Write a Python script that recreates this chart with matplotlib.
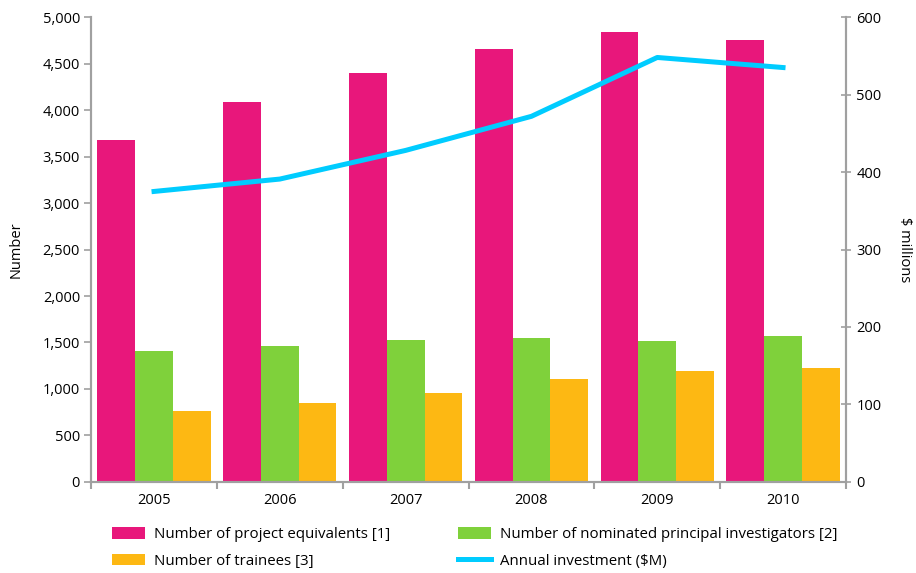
import matplotlib.pyplot as plt
import numpy as np
from matplotlib.ticker import FuncFormatter, FixedLocator

plt.rcParams['font.family'] = ['Open Sans', 'DejaVu Sans']

# Data
years = ["2005", "2006", "2007", "2008", "2009", "2010"]
project_equivalents = [3680, 4090, 4400, 4660, 4840, 4750]
principal_investigators = [1410, 1460, 1530, 1550, 1515, 1570]
trainees = [765, 850, 955, 1105, 1195, 1225]
investment = [375, 391, 428, 472, 548, 535]

pink = "#E8177B"
green = "#7FD13B"
orange = "#FDB813"
blue = "#00CCFF"
grey = "#A0A0A0"

fig = plt.figure(figsize=(9.16, 5.73), dpi=100)
ax = fig.add_axes([0.0995, 0.159, 0.824, 0.811])
ax2 = ax.twinx()

x = np.arange(len(years))
w = 0.3
b1 = ax.bar(x - w, project_equivalents, w, color=pink, label="Number of project equivalents [1]")
b2 = ax.bar(x, principal_investigators, w, color=green, label="Number of nominated principal investigators [2]")
b3 = ax.bar(x + w, trainees, w, color=orange, label="Number of trainees [3]")
l1, = ax2.plot(x, investment, color=blue, lw=3.6, label="Annual investment ($M)")

ax.set_xlim(-0.5, len(years) - 0.5)
ax.set_ylim(0, 5000)
ax2.set_ylim(0, 600)
ax.set_yticks(np.arange(0, 5001, 500))
ax.yaxis.set_major_formatter(FuncFormatter(lambda v, p: f"{int(v):,}"))
ax2.set_yticks(np.arange(0, 601, 100))

ax.set_xticks(x)
ax.set_xticklabels(years)
ax.xaxis.set_minor_locator(FixedLocator(np.arange(-0.5, len(years), 1.0)))
ax.tick_params(axis='x', which='major', length=0, pad=8, labelsize=10.5)
ax.tick_params(axis='x', which='minor', length=5, color=grey, width=1.5, direction='out')
ax.tick_params(axis='y', length=5, color=grey, width=1.2, labelsize=10.5, pad=3)
ax2.tick_params(axis='y', length=7, color=grey, width=1.2, labelsize=10.5, direction='inout', pad=4)

for a in (ax, ax2):
    a.spines['top'].set_visible(False)
    for s in ('left', 'right', 'bottom'):
        a.spines[s].set_color(grey)
        a.spines[s].set_linewidth(1.5)

ax.set_ylabel("Number", fontsize=10.5, labelpad=14)
ax2.set_ylabel("$ millions", fontsize=10.5, rotation=270, labelpad=22)

fig.legend(handles=[b1, b3, b2, l1], loc='lower left', bbox_to_anchor=(0.108, -0.016),
           ncol=2, frameon=False, fontsize=10.8, handlelength=2.2, handleheight=0.8,
           columnspacing=4.5, labelspacing=0.75, handletextpad=0.6)

fig.savefig("out.png", dpi=100)
